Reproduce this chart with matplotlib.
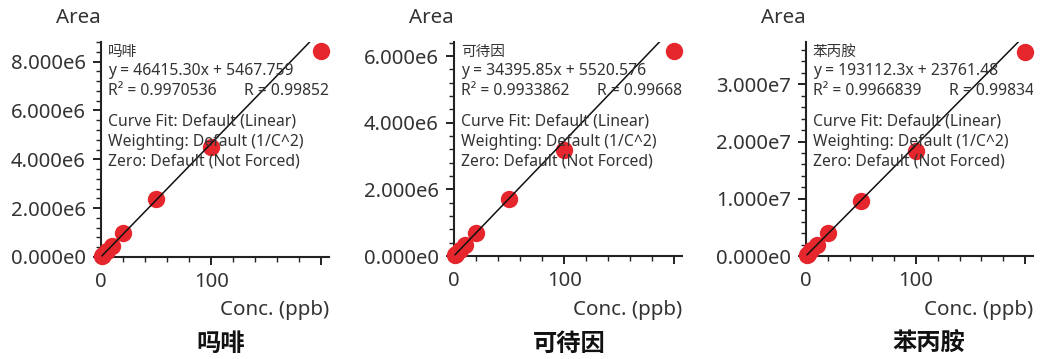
import matplotlib
matplotlib.use("Agg")
import matplotlib.pyplot as plt
from matplotlib.ticker import MultipleLocator, AutoMinorLocator, FuncFormatter
import numpy as np

plt.rcParams["font.family"] = ["Noto Sans", "Noto Sans CJK SC", "DejaVu Sans"]

# ------------------------------------------------------------
# DATA
# ------------------------------------------------------------

compounds = ["吗啡", "可待因", "苯丙胺"]
conc = [1, 2, 5, 10, 20, 50, 100, 200]

morphine_area = [5.0e4, 9.7e4, 2.4e5, 4.7e5, 1.0e6, 2.37e6, 4.50e6, 8.45e6]
codeine_area = [3.8e4, 7.3e4, 1.8e5, 3.4e5, 6.8e5, 1.70e6, 3.19e6, 6.15e6]
amphetamine_area = [2.1e5, 4.0e5, 9.9e5, 1.95e6, 3.99e6, 9.56e6, 1.83e7, 3.57e7]
areas = [morphine_area, codeine_area, amphetamine_area]

slopes = [46415.30, 34395.85, 193112.3]
intercepts = [5467.759, 5520.576, 23761.48]
r_squared = [0.9970536, 0.9933862, 0.9966839]

y_major = [2e6, 2e6, 1e7]
y_top = [8.8e6, 6.42e6, 3.74e7]

fit_notes = ["Curve Fit: Default (Linear)",
             "Weighting: Default (1/C^2)",
             "Zero: Default (Not Forced)"]

# ------------------------------------------------------------
# LAYOUT
# ------------------------------------------------------------

# axes boxes in pixels: left, right, top, bottom
boxes = [(101, 329, 42, 257), (454, 682, 42, 256), (806, 1033, 42, 256)]
title_x = [221, 569, 929]

W, H = 1042, 359
RED = "#E5262C"
TXT = "#333333"
AXC = "#222222"


def sig7(v):
    # seven significant digits, fixed notation
    digits = 7 - len(str(int(abs(v))))
    return f"{v:.{max(digits, 0)}f}"


def sci_fmt(v, pos):
    if v == 0:
        return "0.000e0"
    exp = int(np.floor(np.log10(abs(v))))
    return f"{v / 10**exp:.3f}e{exp}"


# ------------------------------------------------------------
# PLOTTING
# ------------------------------------------------------------

fig = plt.figure(figsize=(W / 100, H / 100), dpi=100)

for i in range(3):
    left, right, top, bottom = boxes[i]
    ax = fig.add_axes([left / W, (H - bottom) / H, (right - left) / W, (bottom - top) / H])
    ax.set_xlim(0, 207)
    ax.set_ylim(0, y_top[i])

    # weighted regression line, drawn above the points
    xs = np.array([conc[0], conc[-1]], dtype=float)
    ax.plot(xs, slopes[i] * xs + intercepts[i], color="#111111", lw=1.1, zorder=4)
    ax.plot(conc, areas[i], "o", ms=12.5, color=RED, mec="none", zorder=3, clip_on=False)

    for s in ["top", "right"]:
        ax.spines[s].set_visible(False)
    for s in ["left", "bottom"]:
        ax.spines[s].set_linewidth(1.5)
        ax.spines[s].set_color(AXC)

    ax.xaxis.set_major_locator(MultipleLocator(100))
    ax.xaxis.set_minor_locator(AutoMinorLocator(5))
    ax.xaxis.set_major_formatter(FuncFormatter(lambda v, p: "" if v >= 200 else f"{v:.0f}"))
    ax.yaxis.set_major_locator(MultipleLocator(y_major[i]))
    ax.yaxis.set_minor_locator(AutoMinorLocator(5))
    ax.yaxis.set_major_formatter(FuncFormatter(sci_fmt))
    ax.tick_params(which="major", length=6, width=1.4, color=AXC,
                   labelsize=14.6, labelcolor=TXT, pad=5)
    ax.tick_params(which="minor", length=3.5, width=1.0, color=AXC)

    # fit summary block
    h = bottom - top
    ypos = [10, 29, 49, 80, 100, 120]
    r = np.sqrt(r_squared[i])
    lines = [compounds[i],
             f"y = {sig7(slopes[i])}x + {sig7(intercepts[i])}",
             f"R² = {r_squared[i]:.7f}"] + fit_notes
    for k, line in enumerate(lines):
        ax.text(7 / (right - left), 1 - ypos[k] / h, line, transform=ax.transAxes,
                fontsize=11.3 if k else 10.5, color=TXT, va="center", ha="left",
                clip_on=True, zorder=5)
    ax.text(143 / (right - left), 1 - ypos[2] / h, f"R = {r:.7f}", transform=ax.transAxes,
            fontsize=11.3, color=TXT, va="center", ha="left", clip_on=True, zorder=5)

    fig.text(left / W, 1 - 18 / H, "Area", fontsize=14.8, color=TXT, ha="right", va="center")
    fig.text(right / W, 1 - 310 / H, "Conc. (ppb)", fontsize=14.8, color=TXT,
             ha="right", va="center")
    fig.text(title_x[i] / W, 1 - 345 / H, compounds[i], fontsize=17.5, fontweight="bold",
             color="#111111", ha="center", va="center")

fig.savefig("out.png", dpi=100)
